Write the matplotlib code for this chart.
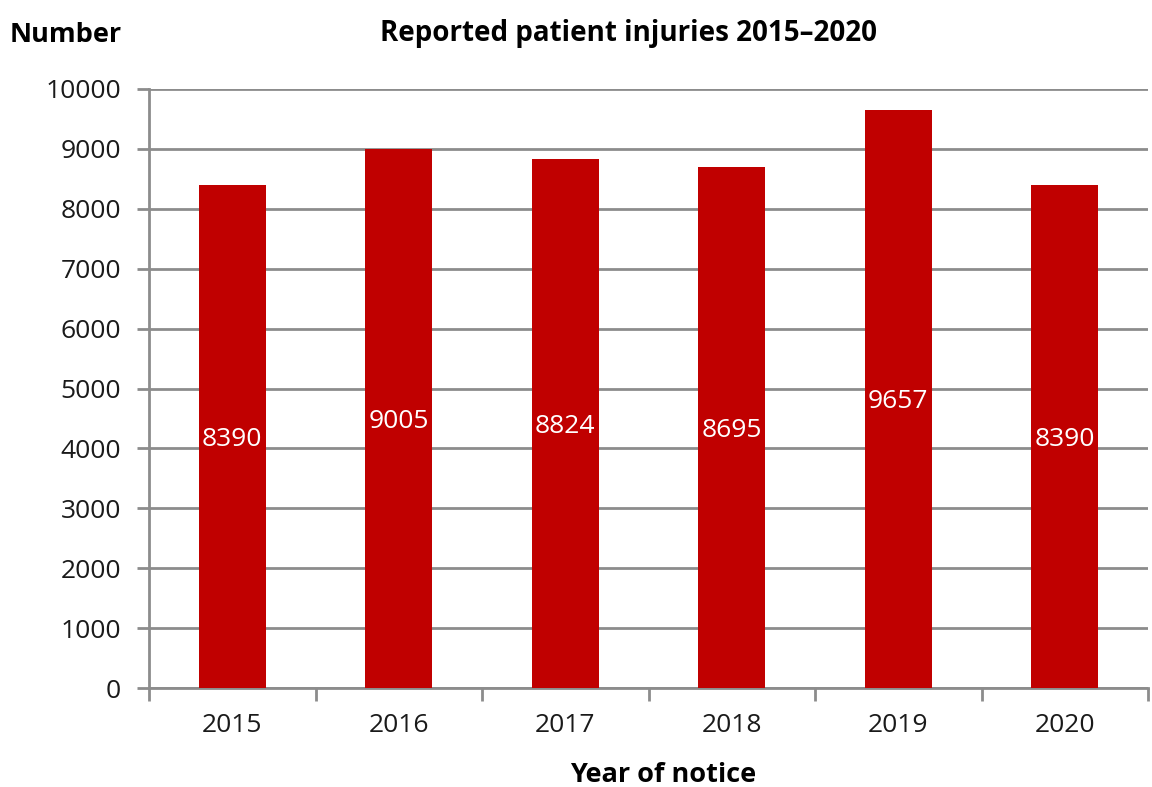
import matplotlib
matplotlib.use("Agg")
import matplotlib.pyplot as plt
import numpy as np

years = ["2015", "2016", "2017", "2018", "2019", "2020"]
values = [8390, 9005, 8824, 8695, 9657, 8390]
yticks = [0, 1000, 2000, 3000, 4000, 5000, 6000, 7000, 8000, 9000, 10000]

plt.rcParams['font.family'] = ['Open Sans', 'DejaVu Sans']
grey = "#8c8c8c"
red = "#C00000"

fig = plt.figure(figsize=(11.52, 7.87), dpi=100)
ax = fig.add_axes([149/1152, 1-688/787, (1148-149)/1152, (688-89)/787])

x = np.arange(len(years))
bars = ax.bar(x, values, width=0.4, color=red, zorder=3)
for xi, v in zip(x, values):
    ax.text(xi, v/2, str(v), ha='center', va='center_baseline', color='white', fontsize=19, zorder=4)

ax.set_xlim(-0.5, len(years)-0.5)
ax.set_ylim(0, 10000)
ax.set_yticks(yticks)
ax.set_yticklabels([str(t) for t in yticks], fontsize=19, color='#1a1a1a')
ax.yaxis.grid(True, color=grey, linewidth=2, zorder=0)
ax.set_axisbelow(True)

ax.set_xticks(x)
ax.set_xticklabels(years, fontsize=19, color='#1a1a1a')
ax.tick_params(axis='x', which='major', length=0, pad=18)
ax.set_xticks(np.arange(-0.5, len(years)), minor=True)
ax.tick_params(axis='x', which='minor', length=9, width=2, color=grey, direction='out')
ax.tick_params(axis='y', length=9, width=2, color=grey, pad=11)

for s in ['top', 'right']:
    ax.spines[s].set_visible(False)
for s in ['left', 'bottom']:
    ax.spines[s].set_color(grey)
    ax.spines[s].set_linewidth(2)

fig.text(380/1152, 1-33/787, "Reported patient injuries 2015\u20132020", fontsize=20, fontweight='bold', ha='left', va='center')
fig.text(10/1152, 1-35/787, "Number", fontsize=19.5, fontweight='bold', ha='left', va='center')
fig.text(663/1152, 1-775/787, "Year of notice", fontsize=19.5, fontweight='bold', ha='center', va='center')

fig.savefig("out.png", dpi=100)
